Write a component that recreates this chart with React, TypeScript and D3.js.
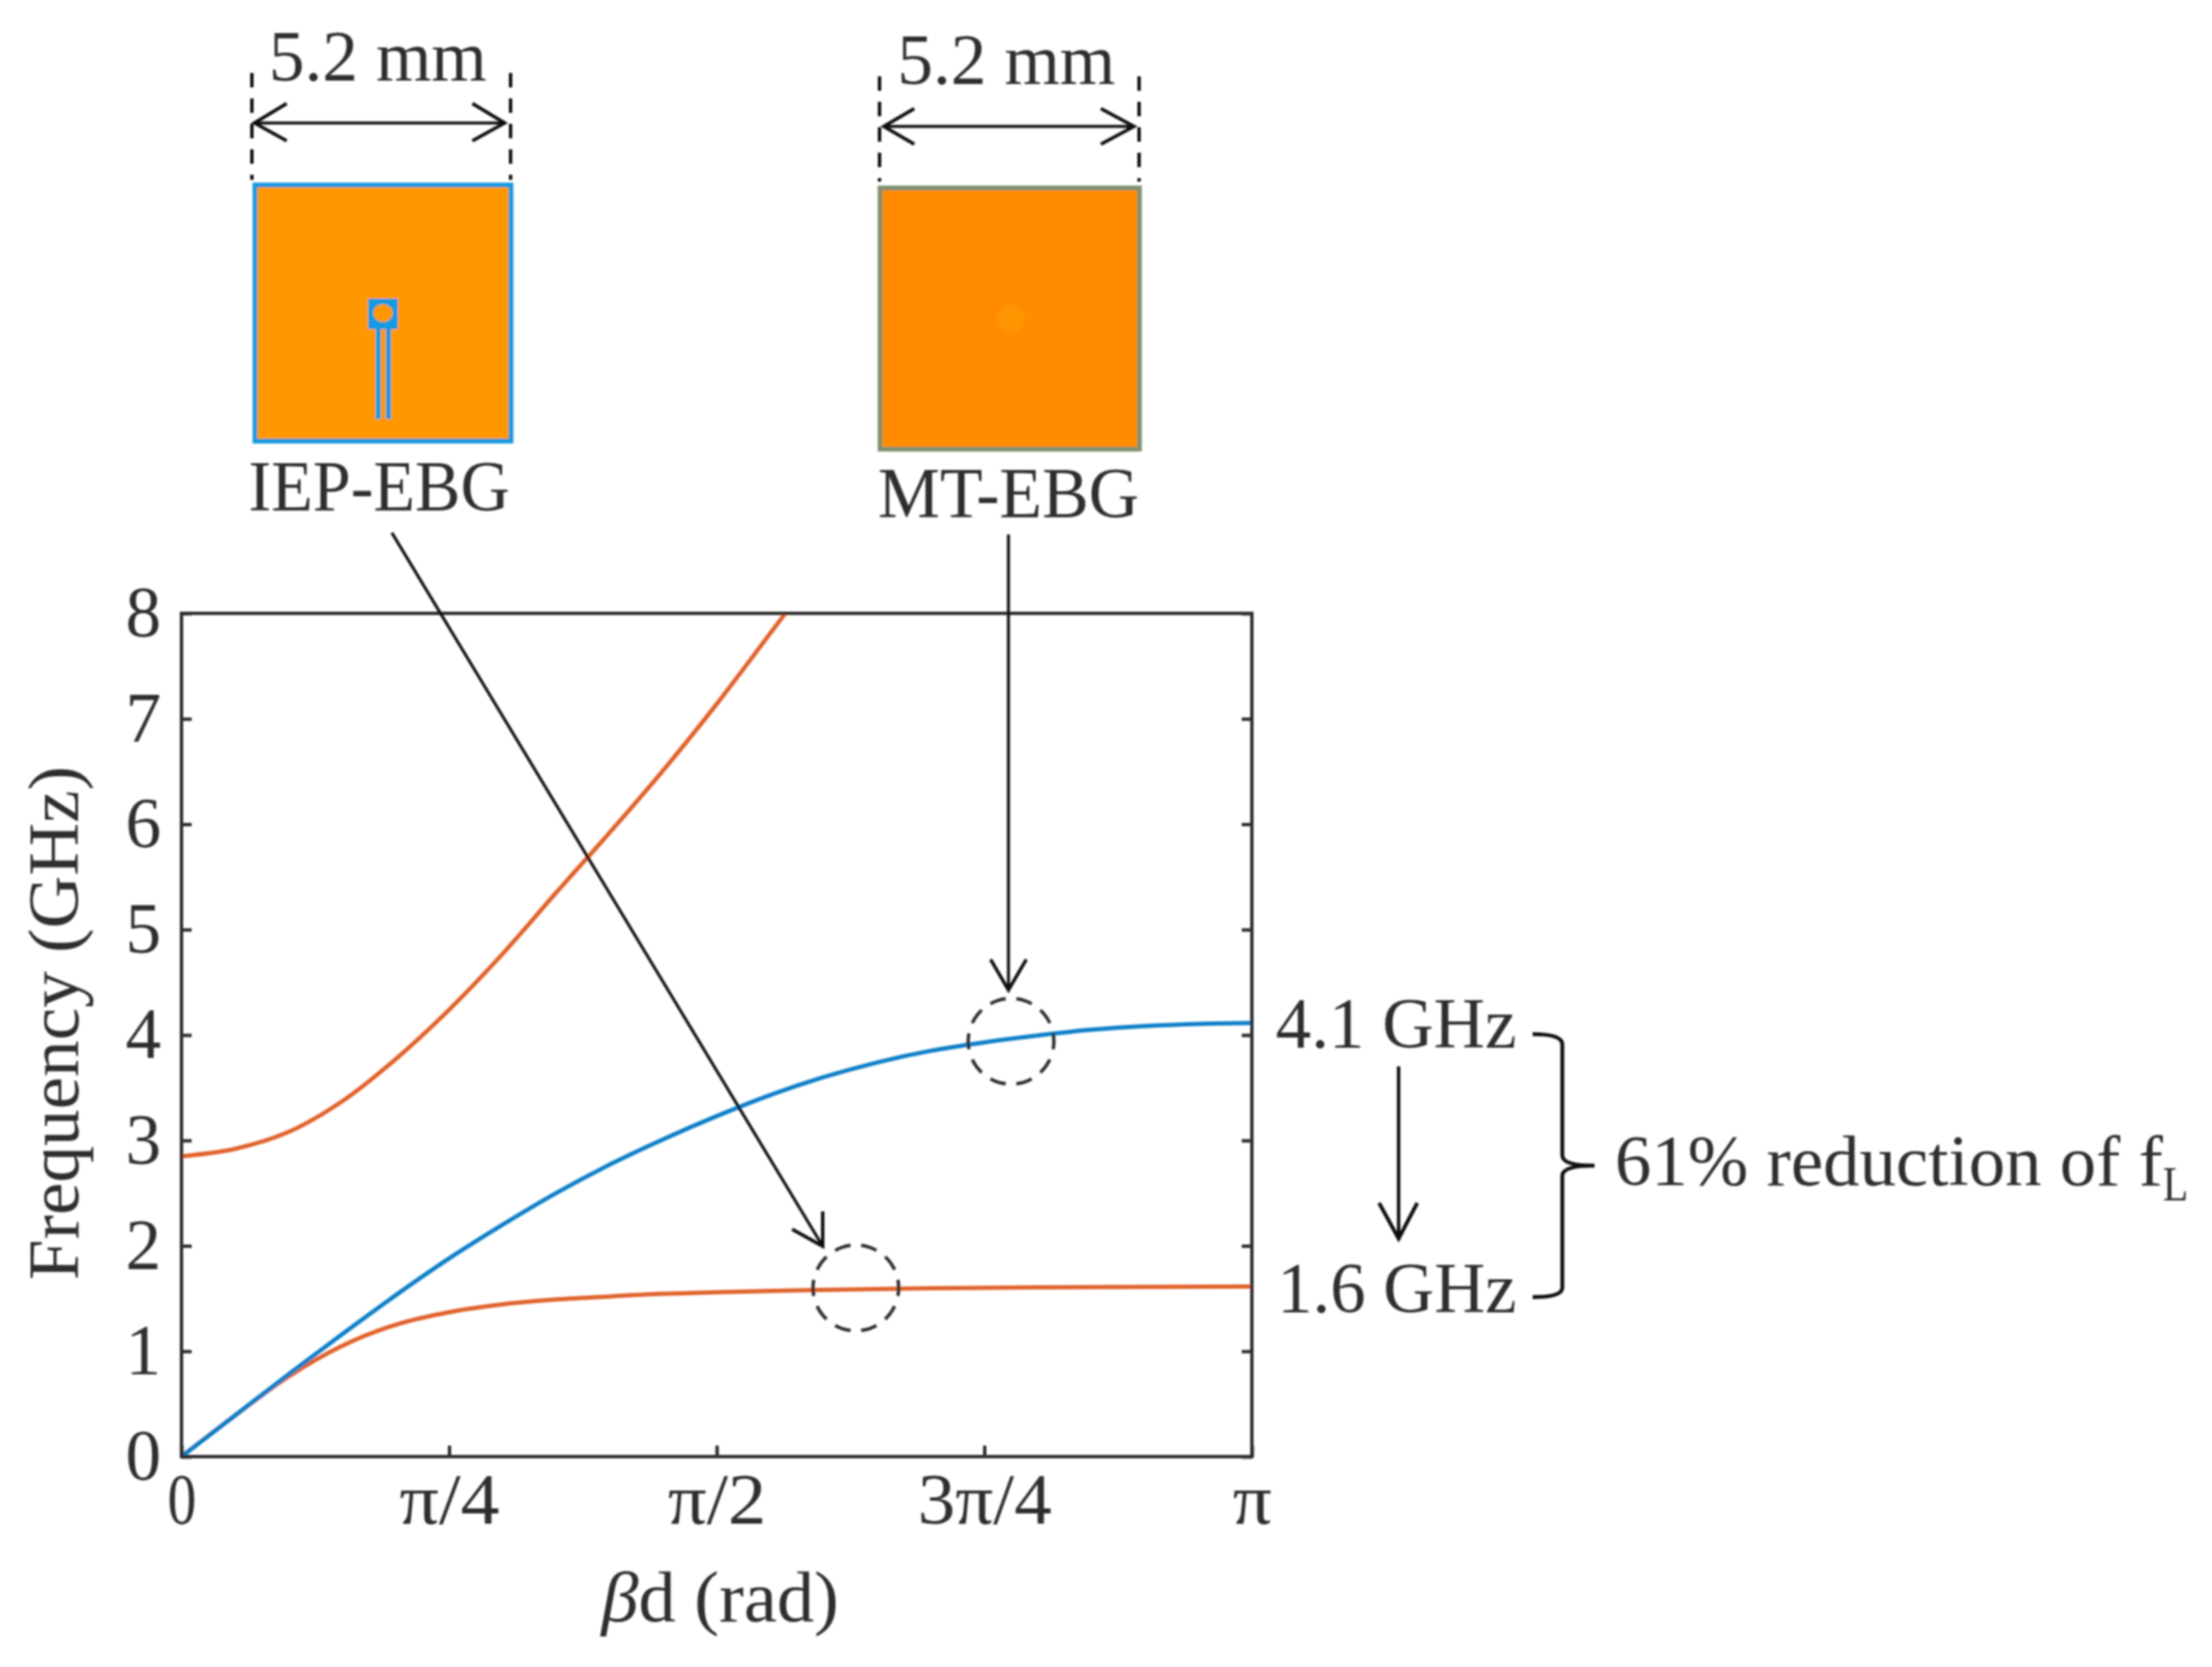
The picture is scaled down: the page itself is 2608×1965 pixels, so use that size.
import React, { useEffect, useRef } from 'react';
import * as d3 from 'd3';

// dispersion curves, x given as a fraction of pi
const blueX = [0, 0.05, 0.1, 0.15, 0.2, 0.25, 0.3, 0.35, 0.4, 0.45, 0.5, 0.55, 0.6, 0.65, 0.7, 0.75, 0.8, 0.85, 0.9, 0.95, 1];
const blueY = [0, 0.39, 0.78, 1.16, 1.53, 1.88, 2.2, 2.5, 2.77, 3.01, 3.23, 3.43, 3.6, 3.74, 3.85, 3.93, 3.995, 4.05, 4.085, 4.105, 4.114];

const lowerX = [0, 0.05, 0.1, 0.15, 0.2, 0.25, 0.3, 0.35, 0.4, 0.45, 0.5, 0.6, 0.7, 0.8, 1];
const lowerY = [0, 0.39, 0.76, 1.05, 1.25, 1.37, 1.445, 1.49, 1.52, 1.545, 1.56, 1.582, 1.597, 1.605, 1.613];

const upperX = [0, 0.05, 0.1, 0.15, 0.2, 0.25, 0.3, 0.35, 0.4, 0.45, 0.5, 0.55, 0.564];
const upperY = [2.85, 2.92, 3.08, 3.37, 3.77, 4.24, 4.77, 5.35, 5.92, 6.51, 7.14, 7.81, 8.0];

const yTicks = [0, 1, 2, 3, 4, 5, 6, 7, 8];
const xTickFractions = [0, 0.25, 0.5, 0.75, 1];
const xTickLabels = ['0', 'π/4', 'π/2', '3π/4', 'π'];
const xTickWidths = [34, 118, 116, 158, 46];

// dashed rings marking the two band edges, in data units
const ringX = [0.775, 0.63];
const ringY = [3.94, 1.6];

const FONT = '"Liberation Serif", serif';
const INK = '#2f2f2f';
const ORANGE = '#e0622c';
const BLUE = '#0f7fc8';

const margin = { left: 214, right: 1476, top: 723, bottom: 1717 };

const x = d3.scaleLinear().domain([0, Math.PI]).range([margin.left, margin.right]);
const y = d3.scaleLinear().domain([0, 8]).range([margin.bottom, margin.top]);

const curve = d3
    .line<[number, number]>()
    .x(d => x(d[0] * Math.PI))
    .y(d => y(d[1]))
    .curve(d3.curveCatmullRom.alpha(0.5));

const zipCurve = (xs: number[], ys: number[]) => xs.map((v, i) => [v, ys[i]] as [number, number]);

const Label = ({ x0, y0, width, size = 84, children, ...rest }: any) => (
    <text
        x={x0}
        y={y0}
        textLength={width}
        lengthAdjust="spacingAndGlyphs"
        fontFamily={FONT}
        fontSize={size}
        fill={INK}
        {...rest}
    >
        {children}
    </text>
);

// open V arrow head, drawn as two strokes meeting at the tip
const Arrow = ({ from, tip, barbs, width = 3.5 }: any) => (
    <g fill="none" stroke="#111" strokeWidth={width}>
        <line x1={from[0]} y1={from[1]} x2={tip[0]} y2={tip[1]} />
        <polyline points={`${barbs[0]} ${tip} ${barbs[1]}`} strokeWidth={width + 0.5} />
    </g>
);

const Guide = ({ at, top, bottom }: any) => (
    <line x1={at} x2={at} y1={top} y2={bottom} stroke="#111" strokeWidth={4} strokeDasharray="17 13" />
);

const App = () => {
    const axesRef = useRef<SVGGElement>(null);

    useEffect(() => {
        const g = d3.select(axesRef.current);
        g.selectAll('*').remove();

        const left = g
            .append('g')
            .attr('transform', `translate(${margin.left},0)`)
            .call(d3.axisLeft(y).tickValues(yTicks).tickFormat(d3.format('d')).tickSize(-12).tickPadding(24).tickSizeOuter(0));
        const right = g
            .append('g')
            .attr('transform', `translate(${margin.right},0)`)
            .call(d3.axisRight(y).tickValues(yTicks).tickFormat(() => '').tickSize(-12).tickSizeOuter(0));
        const bottom = g
            .append('g')
            .attr('transform', `translate(0,${margin.bottom})`)
            .call(
                d3
                    .axisBottom(x)
                    .tickValues(xTickFractions.map(f => f * Math.PI))
                    .tickFormat((_, i) => xTickLabels[i])
                    .tickSize(-13)
                    .tickPadding(19)
                    .tickSizeOuter(0)
            );

        [left, right, bottom].forEach(axis => {
            axis.select('.domain').remove();
            axis.selectAll('line').attr('stroke', INK).attr('stroke-width', 4);
            axis.selectAll('text').attr('font-family', FONT).attr('font-size', 84).attr('fill', INK);
        });
        bottom
            .selectAll('text')
            .attr('text-anchor', 'middle')
            .attr('textLength', (_, i) => xTickWidths[i])
            .attr('lengthAdjust', 'spacingAndGlyphs');
    }, []);

    return (
        <svg
            width={2608}
            height={1965}
            viewBox="0 0 2608 1965"
            style={{ position: 'absolute', left: 0, top: 0, background: '#fff' }}
        >
            {/* the source figure is a soft raster */}
            <defs>
                <filter id="soft" x="0" y="0" width="100%" height="100%" filterUnits="userSpaceOnUse">
                    <feGaussianBlur stdDeviation="0.9" />
                </filter>
            </defs>
            <g filter="url(#soft)">
                {/* unit cell sketches */}
                <Label x0={317} y0={95} width={257}>5.2 mm</Label>
                <Guide at={297} top={86} bottom={212} />
                <Guide at={602} top={86} bottom={212} />
                <Arrow from={[300, 145]} tip={[300, 145]} barbs={[[338, 122], [338, 166]]} />
                <Arrow from={[300, 145]} tip={[595, 145]} barbs={[[557, 122], [557, 166]]} />
                <rect x={300.5} y={218} width={302} height={302} fill="#ff9800" stroke="#189ae0" strokeWidth={5.5} />
                <rect x={434} y={352} width={35} height={36} fill="#189ae0" />
                <ellipse cx={451.5} cy={369} rx={11.5} ry={10.5} fill="#ff9800" />
                <rect x={443} y={388} width={6} height={106} fill="#189ae0" />
                <rect x={455} y={388} width={6} height={106} fill="#189ae0" />
                <Label x0={293} y0={602} width={308}>IEP-EBG</Label>

                <Label x0={1058} y0={99} width={257}>5.2 mm</Label>
                <Guide at={1037} top={90} bottom={214} />
                <Guide at={1343} top={90} bottom={214} />
                <Arrow from={[1042, 149]} tip={[1042, 149]} barbs={[[1078, 128], [1078, 170]]} />
                <Arrow from={[1042, 149]} tip={[1337, 149]} barbs={[[1298, 128], [1298, 170]]} />
                <rect x={1037.5} y={221.5} width={306} height={308} fill="#ff8c00" stroke="#7f9272" strokeWidth={5.5} />
                <ellipse cx={1191.5} cy={375.5} rx={16.5} ry={16} fill="#ff9500" />
                <Label x0={1035} y0={610} width={308}>MT-EBG</Label>

                {/* plot */}
                <g fill="none" strokeWidth={5}>
                    <path d={curve(zipCurve(upperX, upperY)) as string} stroke={ORANGE} />
                    <path d={curve(zipCurve(lowerX, lowerY)) as string} stroke={ORANGE} />
                    <path d={curve(zipCurve(blueX, blueY)) as string} stroke={BLUE} />
                </g>
                <rect
                    x={margin.left}
                    y={margin.top}
                    width={margin.right - margin.left}
                    height={margin.bottom - margin.top}
                    fill="none"
                    stroke={INK}
                    strokeWidth={4}
                />
                <g ref={axesRef} />

                {ringX.map((r, i) => (
                    <circle
                        key={r}
                        cx={x(r * Math.PI)}
                        cy={y(ringY[i])}
                        r={50.5}
                        fill="none"
                        stroke={INK}
                        strokeWidth={4}
                        pathLength={100}
                        strokeDasharray="6 4"
                        strokeDashoffset={3}
                    />
                ))}

                <Arrow from={[462, 628]} tip={[970, 1469]} barbs={[[934, 1449], [970, 1428]]} />
                <Arrow from={[1189, 630]} tip={[1189, 1167]} barbs={[[1168, 1131], [1210, 1131]]} />

                <Label
                    x0={0}
                    y0={0}
                    width={606}
                    textAnchor="middle"
                    transform="translate(92,1206) rotate(-90)"
                >
                    Frequency (GHz)
                </Label>
                <Label x0={849} y0={1911} width={280} textAnchor="middle">
                    <tspan fontStyle="italic">β</tspan>d (rad)
                </Label>

                {/* band edge annotation */}
                <Label x0={1504} y0={1235} width={284}>4.1 GHz</Label>
                <Label x0={1506} y0={1547} width={282}>1.6 GHz</Label>
                <Arrow from={[1649, 1257]} tip={[1649, 1460]} barbs={[[1626, 1418], [1671, 1418]]} width={4} />
                <path
                    d="M1807 1219 Q1842 1219 1842 1231 L1842 1362 Q1842 1374 1880 1374 Q1842 1374 1842 1386 L1842 1518 Q1842 1529 1807 1529"
                    fill="none"
                    stroke="#111"
                    strokeWidth={4.5}
                />
                <Label x0={1904} y0={1397} width={646}>61% reduction of f</Label>
                <Label x0={2550} y0={1415} width={30} size={56}>L</Label>
            </g>
        </svg>
    );
};

export default App;
